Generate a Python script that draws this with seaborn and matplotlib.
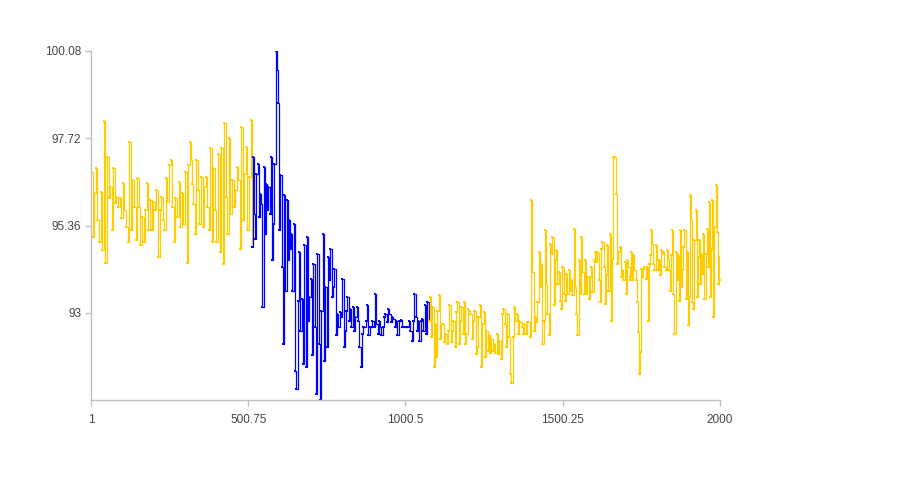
import numpy as np
import pandas as pd
import matplotlib
matplotlib.use("Agg")
import matplotlib.pyplot as plt
import seaborn as sns

# values, block by block; each block has its own index range
yellow_a = [96.81, 95.05, 96.23, 96.91, 95.50, 94.91, 96.27, 94.69, 98.19, 94.34,
            97.21, 96.09, 96.40, 95.23, 96.91, 95.96, 96.13, 95.86, 96.09, 95.55,
            96.50, 95.77, 95.32, 94.91, 97.62, 95.23, 96.58, 95.86, 94.96, 96.63,
            95.86, 94.82, 95.59, 94.91, 95.77, 96.50, 95.23, 96.04, 95.23, 96.00,
            95.77, 96.31, 94.51, 95.77, 96.13, 95.50, 95.23, 96.63, 96.00, 96.99,
            97.12, 95.86, 94.91, 96.09, 95.59, 96.54, 95.32, 96.23, 95.41, 96.81,
            94.34, 96.99, 97.62, 97.12]
yellow_a_range = (1, 320)

yellow_b = [96.49, 95.95, 95.14, 97.12, 96.31, 95.41, 96.67, 95.32, 96.40, 96.67,
            95.86, 95.23, 97.44, 94.91, 96.90, 95.77, 94.91, 97.30, 94.64, 97.44,
            94.33, 98.12, 96.13, 95.14, 97.71, 95.68, 96.58, 95.86, 96.31, 96.94,
            96.58, 94.73, 98.02, 95.50, 96.76, 97.48, 95.23, 96.67, 98.20, 94.78]
yellow_b_range = (321, 513)

blue_a = [97.21, 95.68, 95.00, 96.76, 97.03, 95.59, 96.22, 95.95, 93.15, 96.94,
          95.14, 96.49, 95.77, 96.40, 95.68, 97.21, 94.42, 95.41, 97.03, 100.08,
          99.56, 98.66, 95.23, 96.72, 94.23, 92.17, 96.18, 93.60, 96.04, 94.42,
          95.50]
blue_a_range = (515, 630)

blue_b = [94.73, 95.14, 93.60, 95.41, 91.44, 90.94, 93.33, 94.64, 92.52, 93.38,
          91.62, 94.82, 91.53, 95.05, 92.79, 93.42, 93.92, 91.85, 94.33, 92.61,
          90.80, 94.60, 92.16, 90.66, 93.06, 95.14, 91.71, 93.69, 92.07, 94.51,
          93.88, 94.73, 93.42, 93.69, 94.19, 92.39, 92.97, 92.61, 93.02, 92.88,
          93.92, 92.07, 92.52, 93.06, 93.42, 92.79, 93.11, 92.61, 93.15, 92.52,
          92.88, 93.15, 92.79, 92.07, 91.53, 92.43, 92.61, 92.63, 92.79, 93.20,
          92.39, 92.63, 92.63, 92.79, 92.63, 93.52, 92.70, 92.43, 92.79, 92.61,
          92.39, 92.61, 92.88, 92.97, 92.75, 93.11, 92.97, 92.75, 92.88, 92.84,
          92.61, 92.79, 92.39, 92.79, 92.79, 92.81, 92.63, 92.63, 92.63, 92.63,
          92.63, 92.79, 92.52, 92.25, 92.79, 93.52, 92.88, 92.52, 92.79, 92.25,
          92.79, 92.84, 92.52, 93.20, 92.43, 93.29, 92.79]
blue_b_range = (633, 1074)

yellow_c = [93.42, 92.34, 93.15, 91.53, 92.70, 91.80, 93.06, 93.47, 92.30, 92.70,
            92.70, 92.21, 92.43, 92.16, 92.52, 93.20, 92.21, 92.52, 92.79, 92.07,
            93.02, 93.29, 92.16, 92.79, 93.15, 92.43, 93.29, 92.16, 92.43, 93.11,
            93.06, 92.97, 92.30, 92.79, 93.06, 91.89, 92.07, 92.88, 93.20, 91.53,
            92.70, 93.02, 91.80, 92.52, 91.98, 92.39, 91.93, 92.30, 91.98, 92.16,
            91.93, 92.43, 91.89, 92.25, 91.76, 92.97, 93.11, 92.70, 92.07, 92.97,
            92.34, 91.35, 91.12, 92.34, 93.15, 92.79, 92.97, 92.43, 92.79, 92.75,
            92.61, 92.43, 92.70, 92.43, 92.75, 92.75]
yellow_c_range = (1077, 1391)

yellow_d = [92.34, 96.04, 94.10, 92.52, 92.88, 92.75, 93.29, 94.64, 93.69, 94.33,
            92.16, 92.79, 95.23, 93.79, 92.97, 92.39, 94.87, 94.60, 95.05, 93.20,
            94.42, 94.69, 93.79, 94.10, 93.33, 93.11, 94.24, 93.51, 93.33, 94.06,
            93.51, 94.15, 93.60, 93.88, 93.47, 95.27, 93.69, 92.97, 92.39, 94.42,
            93.51, 95.05, 94.10, 93.51, 94.42, 93.51, 93.97, 93.38, 93.97, 94.24,
            93.56, 94.42, 94.64, 94.37, 94.64, 93.88, 93.29, 94.73, 94.91, 94.24,
            93.24, 94.01, 94.82, 93.60, 95.14, 92.79, 94.46, 97.21, 97.21, 96.22,
            94.33, 94.64, 94.78, 93.97, 94.15, 93.88, 94.37, 93.51, 94.42, 94.24,
            93.88]
yellow_d_range = (1396, 1713)

yellow_e = [93.97, 94.64, 93.88, 94.55, 94.15, 93.88, 93.29, 92.48, 91.35, 91.94,
            94.19, 93.97, 94.19, 94.24, 93.92, 94.24, 92.79, 94.33, 94.55, 95.23,
            94.87, 94.33, 94.15, 94.82, 94.42, 94.15, 94.42, 94.01, 94.69, 94.60,
            94.64, 94.24, 94.15, 94.69, 94.46, 94.15, 93.60, 94.55, 95.23, 93.51,
            92.43, 94.64, 93.88, 94.55, 93.33, 95.23, 93.69, 94.15, 94.78, 95.23,
            93.38, 94.64, 92.66, 93.42, 96.18, 95.50, 93.29, 93.11, 94.96, 95.77,
            93.42, 94.51, 94.96, 93.79, 94.60, 94.06, 95.14, 93.38, 94.60, 95.27,
            94.24, 96.00, 93.42, 94.73, 96.04, 92.88, 95.32, 96.45, 95.18, 93.79,
            94.51, 93.88]
yellow_e_range = (1714, 2000)

x_ticks = [1, 500.75, 1000.5, 1500.25, 2000]
x_labels = ["1", "500.75", "1000.5", "1500.25", "2000"]
y_ticks = [93, 95.36, 97.72, 100.08]
y_labels = ["93", "95.36", "97.72", "100.08"]
y_range = (90.64, 100.08)

YELLOW = "#ffcc00"
BLUE = "#0000ff"


def block(vals, rng, run):
    return pd.DataFrame({"x": np.linspace(rng[0], rng[1], len(vals)),
                         "value": vals, "run": run})


df = pd.concat([
    block(yellow_a, yellow_a_range, 0),
    block(yellow_b, yellow_b_range, 0),
    block(blue_a, blue_a_range, 1),
    block(blue_b, blue_b_range, 1),
    block(yellow_c, yellow_c_range, 2),
    block(yellow_d, yellow_d_range, 2),
    block(yellow_e, yellow_e_range, 2),
], ignore_index=True)

sns.set_style("white")
plt.rcParams["font.family"] = ["Liberation Sans", "DejaVu Sans"]

fig = plt.figure(figsize=(9, 5), dpi=100)
ax = fig.add_axes([0.1011, 0.1994, 0.6989, 0.6992])

colors = {0: YELLOW, 1: BLUE, 2: YELLOW}
prev = None
for run, part in df.groupby("run"):
    if prev is not None:
        # join to the last point of the previous run
        part = pd.concat([prev.tail(1), part], ignore_index=True)
    sns.lineplot(data=part, x="x", y="value", color=colors[run], ax=ax,
                 estimator=None, sort=False, drawstyle="steps-post",
                 linewidth=0.9, marker="s", markersize=1.8,
                 markeredgecolor=colors[run], markeredgewidth=0)
    prev = part

ax.set_xlim(1, 2000)
ax.set_ylim(*y_range)
ax.set_xticks(x_ticks)
ax.set_xticklabels(x_labels)
ax.set_yticks(y_ticks)
ax.set_yticklabels(y_labels)
ax.set_xlabel("")
ax.set_ylabel("")

for side in ["top", "right"]:
    ax.spines[side].set_visible(False)
for side in ["left", "bottom"]:
    ax.spines[side].set_color("#c0c0c0")
    ax.spines[side].set_linewidth(1.0)

ax.tick_params(axis="both", bottom=True, left=True, direction="out",
               length=4, width=1, color="#c0c0c0", labelcolor="#444444",
               labelsize=8.5)
ax.tick_params(axis="x", pad=6)
ax.tick_params(axis="y", pad=3)

fig.savefig("out.png", dpi=100)
